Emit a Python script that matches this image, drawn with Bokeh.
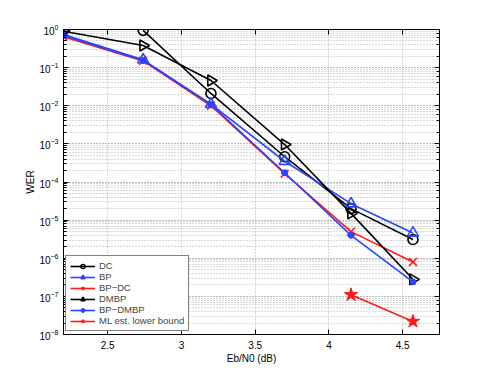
import math
from bokeh.plotting import figure
from bokeh.models import (Range1d, LogAxis, LinearAxis, Legend, LegendItem,
                          FixedTicker, LogTicker, CustomJSTickFormatter)
from bokeh.embed import file_html
from bokeh.resources import INLINE

# ---- data ----
ebn0 = [2.2, 2.74, 3.2, 3.7, 4.15, 4.57]
dc_x = [2.74, 3.2, 3.7, 4.15, 4.57]
dc = [0.95, 0.021, 4.6e-4, 2.0e-5, 3.1e-6]
bp = [0.74, 0.16, 0.011, 3.5e-4, 2.7e-5, 4.6e-6]
bp_dc = [0.65, 0.15, 0.0100, 1.65e-4, 5.0e-6, 8.0e-7]
dmbp = [0.9, 0.38, 0.046, 9.6e-4, 1.5e-5, 2.8e-7]
bp_dmbp = [0.70, 0.155, 0.0108, 1.75e-4, 4.0e-6, 2.4e-7]
ml_x = [4.15, 4.57]
ml = [1.1e-7, 2.2e-8]
x_ticks = [2.5, 3, 3.5, 4, 4.5]

FONT = "Liberation Sans"
BLUE = "#2a45ff"
RED = "#ff1a1a"

p = figure(width=472, height=366, y_axis_type="log",
           x_range=Range1d(2.2, 4.75), y_range=Range1d(1e-8, 1),
           output_backend="svg", toolbar_location=None,
           min_border_left=63, min_border_top=29, min_border_right=33,
           min_border_bottom=32)
p.outline_line_color = "black"
p.outline_line_width = 1

# grids
p.xgrid.grid_line_color = "#b0b0b0"
p.xgrid.grid_line_dash = "1 2"
p.ygrid.grid_line_color = "#b0b0b0"
p.ygrid.grid_line_dash = "1 2"
p.ygrid.minor_grid_line_color = "#b0b0b0"
p.ygrid.minor_grid_line_dash = "1 2"

p.xaxis.ticker = FixedTicker(ticks=x_ticks)
p.xaxis.axis_label = "Eb/N0 (dB)"
p.yaxis.axis_label = "WER"

for ax in p.axis:
    ax.major_tick_in = 5
    ax.major_tick_out = 0
    ax.minor_tick_in = 3
    ax.minor_tick_out = 0
    ax.major_label_text_font = FONT
    ax.major_label_text_font_size = "10px"
    ax.axis_label_text_font = FONT
    ax.axis_label_text_font_size = "10px"
    ax.axis_label_text_font_style = "normal"
    ax.axis_line_color = "black"
    ax.major_tick_line_color = "black"
    ax.minor_tick_line_color = "black"
    ax.major_label_text_color = "black"
    ax.axis_label_text_color = "black"
p.xaxis.axis_label_standoff = 1
p.xaxis.major_label_standoff = 6
p.yaxis.axis_label_standoff = 0

blank = CustomJSTickFormatter(code="return ''")
top = LinearAxis(ticker=FixedTicker(ticks=x_ticks), formatter=blank,
                 major_tick_in=5, major_tick_out=0, minor_tick_in=0, minor_tick_out=0,
                 major_label_standoff=0)
p.add_layout(top, "above")
right = LogAxis(ticker=LogTicker(), formatter=blank, major_label_standoff=0,
                major_tick_in=5, major_tick_out=0, minor_tick_in=3, minor_tick_out=0)
p.add_layout(right, "right")

lw = 1.6

r1 = p.line(dc_x, dc, line_color="black", line_width=lw)
m1 = p.scatter(dc_x, dc, marker="circle", size=10, fill_color=None,
               line_color="black", line_width=lw)
r2 = p.line(ebn0, bp, line_color=BLUE, line_width=lw)
m2 = p.scatter(ebn0, bp, marker="triangle", size=11, fill_color=None,
               line_color=BLUE, line_width=lw)
r3 = p.line(ebn0, bp_dc, line_color=RED, line_width=lw)
m3 = p.scatter(ebn0, bp_dc, marker="x", size=11, line_color=RED, line_width=lw)
r4 = p.line(ebn0, dmbp, line_color="black", line_width=lw)
m4 = p.scatter(ebn0, dmbp, marker="triangle", size=11, angle=-math.pi / 2,
               fill_color=None, line_color="black", line_width=lw)
r5 = p.line(ebn0, bp_dmbp, line_color=BLUE, line_width=lw)
m5 = p.scatter(ebn0, bp_dmbp, marker="circle", size=6, fill_color=BLUE,
               line_color=BLUE)
r6 = p.line(ml_x, ml, line_color=RED, line_width=lw)
m6 = p.scatter(ml_x, ml, marker="star", size=14, fill_color=RED,
               line_color=RED)

legend = Legend(items=[
    LegendItem(label="DC", renderers=[r1, m1]),
    LegendItem(label="BP", renderers=[r2, m2]),
    LegendItem(label="BP\u2212DC", renderers=[r3, m3]),
    LegendItem(label="DMBP", renderers=[r4, m4]),
    LegendItem(label="BP\u2212DMBP", renderers=[r5, m5]),
    LegendItem(label="ML est. lower bound", renderers=[r6, m6]),
], location=(2, 3))
legend.label_text_font = FONT
legend.label_text_font_size = "9.5px"
legend.label_height = 10
legend.glyph_height = 10
legend.glyph_width = 25
legend.spacing = 0
legend.padding = 4
legend.margin = 0
legend.label_standoff = 4
legend.border_line_color = "black"
legend.border_line_width = 1
legend.background_fill_alpha = 1
p.add_layout(legend, "center")

open("out.html", "w").write(file_html(p, INLINE))
